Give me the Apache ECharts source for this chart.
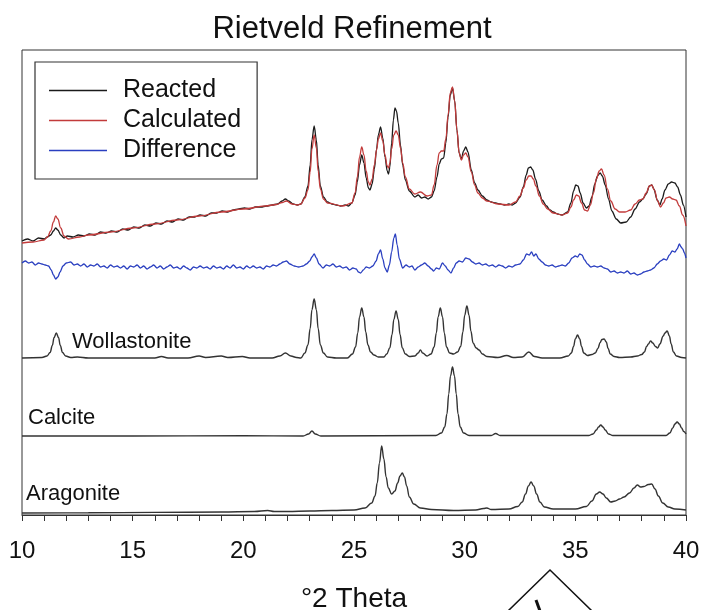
<!DOCTYPE html>
<html><head><meta charset="utf-8">
<script src="https://cdn.jsdelivr.net/npm/echarts@6/dist/echarts.min.js"></script>
<style>html,body{margin:0;padding:0;background:#fff}#c{width:704px;height:610px}</style>
</head><body><div id="c"></div>
<script>
var xTicks = [10, 15, 20, 25, 30, 35, 40];
var seriesNames = ['Reacted', 'Calculated', 'Difference'];
var phaseNames = ['Wollastonite', 'Calcite', 'Aragonite'];

var reacted = [[10.0,274],[10.25,276],[10.5,274],[10.75,277],[11.0,276],[11.15,278],[11.3,280],[11.42,284],[11.52,287],[11.62,285],[11.75,280],[11.9,277],[12.05,279],[12.3,278],[12.55,280],[12.8,279],[13.05,281],[13.3,280],[13.55,283],[13.8,282],[14.05,284],[14.3,283],[14.55,286],[14.8,285],[15.05,288],[15.3,287],[15.55,290],[15.8,289],[16.05,292],[16.3,291],[16.55,294],[16.8,293],[17.05,296],[17.3,295],[17.55,298],[17.8,298],[18.05,300],[18.3,299],[18.55,302],[18.8,302],[19.05,304],[19.3,303],[19.55,305],[19.8,306],[20.05,307],[20.3,306],[20.55,308],[20.8,308],[21.05,309],[21.3,310],[21.55,311],[21.75,314],[21.9,316],[22.05,314],[22.25,311],[22.45,310],[22.6,311],[22.78,318],[22.92,329],[23.02,350],[23.1,375],[23.2,389],[23.3,375],[23.38,350],[23.48,329],[23.62,318],[23.8,313],[24.0,311],[24.2,310],[24.4,309],[24.6,310],[24.75,309],[24.9,312],[25.05,320],[25.15,333],[25.25,350],[25.35,360],[25.45,352],[25.55,337],[25.65,327],[25.72,325],[25.82,331],[25.92,346],[26.02,366],[26.1,380],[26.2,388],[26.3,377],[26.4,358],[26.5,344],[26.56,341],[26.62,348],[26.7,372],[26.78,395],[26.85,407],[26.92,404],[27.0,392],[27.1,370],[27.2,350],[27.32,335],[27.5,324],[27.75,318],[27.9,320],[28.05,317],[28.2,318],[28.35,316],[28.5,318],[28.62,324],[28.75,338],[28.85,351],[28.95,356],[29.05,357],[29.15,372],[29.25,398],[29.35,420],[29.45,427],[29.55,414],[29.65,385],[29.75,362],[29.85,356],[29.95,364],[30.05,368],[30.15,363],[30.3,345],[30.45,332],[30.6,325],[30.8,319],[31.0,315],[31.2,313],[31.4,312],[31.6,311],[31.8,310],[32.0,311],[32.15,310],[32.3,312],[32.5,318],[32.65,328],[32.78,340],[32.88,347],[32.98,348],[33.08,345],[33.2,336],[33.35,324],[33.5,315],[33.7,309],[33.85,305],[34.0,303],[34.2,301],[34.4,300],[34.65,303],[34.8,312],[34.92,324],[35.02,330],[35.12,329],[35.22,322],[35.35,312],[35.5,307],[35.62,309],[35.75,318],[35.88,331],[36.0,339],[36.12,342],[36.22,339],[36.35,330],[36.5,316],[36.65,304],[36.85,296],[37.05,292],[37.3,293],[37.5,298],[37.7,306],[37.9,313],[38.05,316],[38.2,321],[38.35,329],[38.45,330],[38.55,326],[38.7,315],[38.82,310],[38.92,316],[39.05,325],[39.2,331],[39.35,333],[39.5,332],[39.62,328],[39.75,320],[39.88,310],[40.0,298]];

var calculated = [[10.0,272],[10.5,273],[11.0,275],[11.15,278],[11.3,284],[11.42,293],[11.52,299],[11.62,296],[11.75,287],[11.9,279],[12.1,276],[12.6,278],[13.0,280],[14.0,283],[15.0,287],[16.0,291],[17.0,295],[18.0,299],[19.0,303],[20.0,306],[21.0,309],[21.5,310.5],[21.75,312.5],[21.95,314],[22.2,311],[22.45,310],[22.6,311],[22.78,317],[22.92,325],[23.02,343],[23.1,366],[23.2,380],[23.3,367],[23.38,344],[23.48,326],[23.62,316],[23.8,312],[24.5,309],[24.9,312],[25.05,322],[25.15,338],[25.25,358],[25.35,368],[25.45,360],[25.55,344],[25.65,333],[25.72,330],[25.82,336],[25.92,350],[26.02,365],[26.1,376],[26.2,382],[26.3,374],[26.4,360],[26.5,349],[26.56,347],[26.62,352],[26.7,366],[26.8,380],[26.9,384],[27.0,380],[27.1,367],[27.2,352],[27.32,338],[27.5,326],[27.75,321],[28.0,323],[28.3,319],[28.5,320],[28.62,330],[28.75,350],[28.85,362],[28.95,364],[29.05,364],[29.15,376],[29.25,400],[29.35,422],[29.45,428],[29.55,414],[29.65,385],[29.75,362],[29.85,355],[29.95,360],[30.05,362],[30.15,358],[30.3,343],[30.45,330],[30.6,322],[30.8,317],[31.0,314],[31.5,311],[32.0,310],[32.3,313],[32.5,319],[32.65,327],[32.78,335],[32.9,339],[33.0,339],[33.1,336],[33.22,329],[33.38,319],[33.55,311],[33.75,306],[34.0,302],[34.4,300],[34.65,302],[34.8,308],[34.92,315],[35.05,320],[35.15,319],[35.28,312],[35.42,305],[35.55,304],[35.68,310],[35.82,322],[35.95,336],[36.08,344],[36.18,346],[36.3,340],[36.45,326],[36.6,314],[36.8,306],[37.0,303],[37.25,303],[37.5,305],[37.7,311],[37.9,315],[38.05,316],[38.2,322],[38.35,329],[38.45,330],[38.57,325],[38.72,314],[38.85,308],[38.98,312],[39.1,317],[39.25,318],[39.4,316],[39.55,315],[39.7,309],[39.85,300],[40.0,289]];

var difference = [[10.0,252],[10.15,254],[10.3,252],[10.45,253],[10.6,250],[10.75,252],[10.9,251],[11.05,250],[11.2,249],[11.32,245],[11.42,240],[11.52,236],[11.62,238],[11.72,243],[11.85,249],[12.0,252],[12.2,253],[12.35,250],[12.5,251],[12.65,249],[12.8,251],[12.95,248],[13.1,250],[13.25,249],[13.4,251],[13.55,248],[13.7,249],[13.85,247],[14.0,250],[14.15,248],[14.3,249],[14.45,247],[14.6,249],[14.75,246],[14.9,249],[15.05,248],[15.2,250],[15.35,247],[15.5,249],[15.65,246],[15.8,248],[15.95,250],[16.1,247],[16.25,249],[16.4,246],[16.55,248],[16.7,250],[16.85,247],[17.0,248],[17.15,246],[17.3,249],[17.45,247],[17.6,245],[17.75,248],[17.9,247],[18.05,249],[18.2,247],[18.35,248],[18.5,246],[18.65,249],[18.8,247],[18.95,248],[19.1,246],[19.25,249],[19.4,247],[19.55,250],[19.7,247],[19.85,248],[20.0,246],[20.15,249],[20.3,247],[20.45,249],[20.6,247],[20.75,248],[20.9,246],[21.05,249],[21.2,248],[21.35,250],[21.5,249],[21.65,251],[21.8,253],[21.95,254],[22.1,251],[22.3,249],[22.5,248],[22.7,249],[22.85,251],[23.0,254],[23.1,258],[23.2,261],[23.3,257],[23.42,251],[23.6,247],[23.75,250],[23.9,249],[24.05,251],[24.2,248],[24.35,249],[24.5,247],[24.65,248],[24.8,245],[24.95,247],[25.1,246],[25.2,243],[25.3,242],[25.42,245],[25.55,248],[25.7,247],[25.85,249],[26.0,254],[26.1,261],[26.2,265],[26.3,256],[26.4,247],[26.5,243],[26.6,250],[26.7,263],[26.8,277],[26.87,281],[26.95,270],[27.05,256],[27.2,247],[27.35,250],[27.5,248],[27.62,249],[27.75,245],[27.9,248],[28.05,250],[28.2,252],[28.35,249],[28.5,246],[28.6,244],[28.72,247],[28.85,246],[29.0,252],[29.12,249],[29.25,245],[29.38,242],[29.5,247],[29.62,252],[29.75,254],[29.9,253],[30.05,257],[30.2,256],[30.35,253],[30.5,251],[30.65,252],[30.8,250],[30.95,251],[31.1,249],[31.25,250],[31.4,248],[31.55,250],[31.7,249],[31.85,247],[32.0,249],[32.15,248],[32.3,250],[32.5,251],[32.65,255],[32.8,261],[32.92,260],[33.02,263],[33.12,259],[33.22,261],[33.35,256],[33.5,253],[33.65,250],[33.8,249],[33.95,250],[34.1,248],[34.25,249],[34.4,250],[34.55,249],[34.7,252],[34.85,257],[35.0,259],[35.1,258],[35.2,261],[35.3,260],[35.42,255],[35.55,251],[35.7,248],[35.85,249],[36.0,248],[36.15,249],[36.3,247],[36.45,246],[36.6,243],[36.75,244],[36.9,242],[37.05,243],[37.2,242],[37.35,244],[37.5,241],[37.65,242],[37.8,240],[37.95,241],[38.1,243],[38.25,244],[38.4,245],[38.55,247],[38.7,251],[38.85,254],[39.0,256],[39.12,255],[39.25,260],[39.38,264],[39.5,263],[39.6,266],[39.7,271],[39.78,268],[39.85,266],[39.93,262],[40.0,257]];

var wollastonite = [[10.0,157],[10.9,157.5],[11.13,159],[11.27,162.5],[11.37,169.5],[11.45,177.5],[11.55,182],[11.65,177.5],[11.73,169.5],[11.83,162.5],[11.97,159],[12.2,157.5],[12.5,158],[13.0,157],[14.0,157],[15.0,157],[16.0,157],[16.3,158.5],[16.6,157],[17.5,157],[18.0,159],[18.3,157.5],[19.0,159],[19.3,157.5],[19.95,158.5],[20.3,157],[21.3,157],[21.65,159],[21.9,162],[22.15,159],[22.4,157.5],[22.6,157],[22.78,162],[22.92,170],[23.02,186.5],[23.1,205.4],[23.2,216],[23.3,205.4],[23.38,186.5],[23.48,170],[23.62,162],[23.8,158],[24.2,157],[24.7,157],[24.93,161],[25.07,168],[25.17,182],[25.25,198],[25.35,207],[25.45,198],[25.53,183],[25.63,170],[25.75,163],[25.9,160],[26.1,158],[26.35,158],[26.48,161],[26.62,167.3],[26.72,180.5],[26.8,195.5],[26.9,204],[27.0,195.5],[27.08,180.5],[27.18,167.3],[27.32,161],[27.5,158.5],[27.75,159],[27.9,162],[28.0,165],[28.1,162],[28.3,159],[28.48,161],[28.62,168],[28.72,182],[28.8,198],[28.9,207],[29.0,198],[29.08,182],[29.18,168],[29.32,162],[29.5,161],[29.68,163],[29.82,168.5],[29.92,183],[30.0,199.6],[30.1,209],[30.2,199.6],[30.28,184],[30.38,172],[30.52,167],[30.65,165],[30.8,161],[31.0,158.5],[31.5,157.5],[31.9,159.5],[32.2,157.5],[32.6,158],[32.9,163],[33.15,158.5],[33.5,157],[34.3,157],[34.68,159],[34.82,162],[34.92,168.5],[35.0,176],[35.1,180],[35.2,176],[35.28,168.5],[35.38,162],[35.55,159.5],[35.75,160.5],[35.9,162],[36.02,166.5],[36.12,172.5],[36.2,175.5],[36.3,176],[36.4,173],[36.48,166.5],[36.58,161],[36.75,158.5],[37.0,157.5],[37.5,158],[37.8,159],[38.0,160.5],[38.12,163],[38.22,168.5],[38.3,171],[38.4,174],[38.5,172],[38.62,168.5],[38.72,167],[38.82,171],[38.97,179],[39.05,182],[39.15,184],[39.25,179],[39.33,171],[39.43,163],[39.57,159],[39.8,157.5],[40.0,157]];

var calcite = [[10.0,79],[15.0,79],[20.0,79.3],[22.7,79],[22.95,81],[23.1,84],[23.25,81],[23.5,79],[28.7,79.5],[28.95,82],[29.1,88],[29.2,101],[29.28,121],[29.36,139],[29.45,148],[29.54,139],[29.62,121],[29.7,101],[29.8,88],[29.95,82],[30.2,79.5],[31.2,79.5],[31.4,81.5],[31.6,79.5],[35.6,79.5],[35.8,81],[35.95,85],[36.05,88],[36.15,90],[36.25,88],[36.35,85],[36.5,81],[36.7,79.5],[39.1,79.5],[39.27,82],[39.4,87],[39.5,91],[39.6,93],[39.7,91],[39.8,87],[39.9,83.5],[40.0,81]];

var aragonite = [[10.0,2],[13.0,2.2],[16.0,2.6],[19.0,3],[20.5,3.5],[21.1,4.5],[21.4,3.5],[22.0,3.5],[23.0,4],[24.0,4.5],[25.0,5],[25.5,7],[25.8,12],[25.95,19],[26.05,32],[26.15,52],[26.25,69],[26.35,56],[26.45,38],[26.55,27],[26.7,21],[26.85,24],[26.97,32],[27.08,39],[27.18,42],[27.28,38],[27.38,29],[27.5,18],[27.7,11],[28.0,7],[28.5,5.5],[29.5,4.5],[30.5,5],[30.85,6.5],[31.0,7],[31.2,5.5],[32.0,6],[32.4,8.5],[32.6,13],[32.75,21],[32.88,29],[33.0,33],[33.12,29],[33.25,21],[33.4,13],[33.6,8],[34.0,6],[35.0,6],[35.5,8.5],[35.75,14],[35.95,21],[36.1,23],[36.25,21],[36.4,17],[36.6,13],[36.8,14],[37.0,16],[37.2,18],[37.45,22],[37.65,27],[37.8,30],[37.95,28],[38.1,28.5],[38.3,30.5],[38.45,31],[38.6,26],[38.75,19],[38.95,12],[39.2,8],[39.5,6],[40.0,5]];

var FONT = 'Liberation Sans, Arial, sans-serif';
var chart = echarts.init(document.getElementById('c'), null, {renderer: 'canvas'});

function line(name, data, color, w, sm) {
  return {name: name, type: 'line', data: data, showSymbol: false, symbol: 'none',
    smooth: sm, smoothMonotone: 'x', animation: false,
    lineStyle: {color: color, width: w}, itemStyle: {color: color}};
}

chart.setOption({
  backgroundColor: '#fff',
  animation: false,
  title: {text: 'Rietveld Refinement', left: 'center', top: 9,
    textStyle: {fontFamily: FONT, fontSize: 31, fontWeight: 'normal', color: '#111'}},
  grid: {left: 22, right: 18, top: 50, bottom: 95, containLabel: false, outerBoundsMode: 'none',
    show: true, borderColor: '#333', borderWidth: 1, backgroundColor: 'transparent'},
  legend: {data: seriesNames, orient: 'vertical', left: 35, top: 62,
    icon: 'rect', itemWidth: 58, itemHeight: 1.5, itemGap: 5,
    padding: [16, 16, 16, 14], borderColor: '#333', borderWidth: 1.2,
    selectedMode: false,
    textStyle: {fontFamily: FONT, fontSize: 25, color: '#111', padding: [0, 0, 0, 11]}},
  xAxis: {type: 'value', min: xTicks[0], max: xTicks[xTicks.length - 1], interval: 5,
    name: '°2 Theta', nameLocation: 'middle', nameGap: 70,
    nameTextStyle: {fontFamily: FONT, fontSize: 28, color: '#111'},
    axisLine: {show: true, lineStyle: {color: '#333', width: 1}},
    axisTick: {show: true, inside: false, length: 6, lineStyle: {color: '#333'}},
    minorTick: {show: true, splitNumber: 5, length: 6, lineStyle: {color: '#333'}},
    splitLine: {show: false}, minorSplitLine: {show: false},
    axisLabel: {margin: 24, fontFamily: FONT, fontSize: 24, color: '#111'}},
  yAxis: {type: 'value', min: 0, max: 465, show: false, splitLine: {show: false}},
  series: [
    line('Reacted', reacted, '#1a1a1a', 1.3, 0.3),
    line('Calculated', calculated, '#c23b3b', 1.3, 0.4),
    line('Difference', difference, '#2a3fc0', 1.3, 0.3),
    line('Wollastonite', wollastonite, '#333', 1.4, 0.4),
    line('Calcite', calcite, '#333', 1.4, 0.4),
    line('Aragonite', aragonite, '#333', 1.4, 0.4)
  ],
  graphic: [
    {type: 'text', left: 72, top: 331, style: {text: phaseNames[0], font: '22px ' + FONT, fill: '#111'}},
    {type: 'text', left: 28, top: 407, style: {text: phaseNames[1], font: '22px ' + FONT, fill: '#111'}},
    {type: 'text', left: 26, top: 483, style: {text: phaseNames[2], font: '22px ' + FONT, fill: '#111'}},
    {type: 'polyline', shape: {points: [[508, 611], [550, 570], [592, 611]]}, style: {stroke: '#111', lineWidth: 1.5, fill: 'none'}},
    {type: 'line', shape: {x1: 536, y1: 600, x2: 540, y2: 611}, style: {stroke: '#111', lineWidth: 3}}
  ]
});
</script></body></html>
